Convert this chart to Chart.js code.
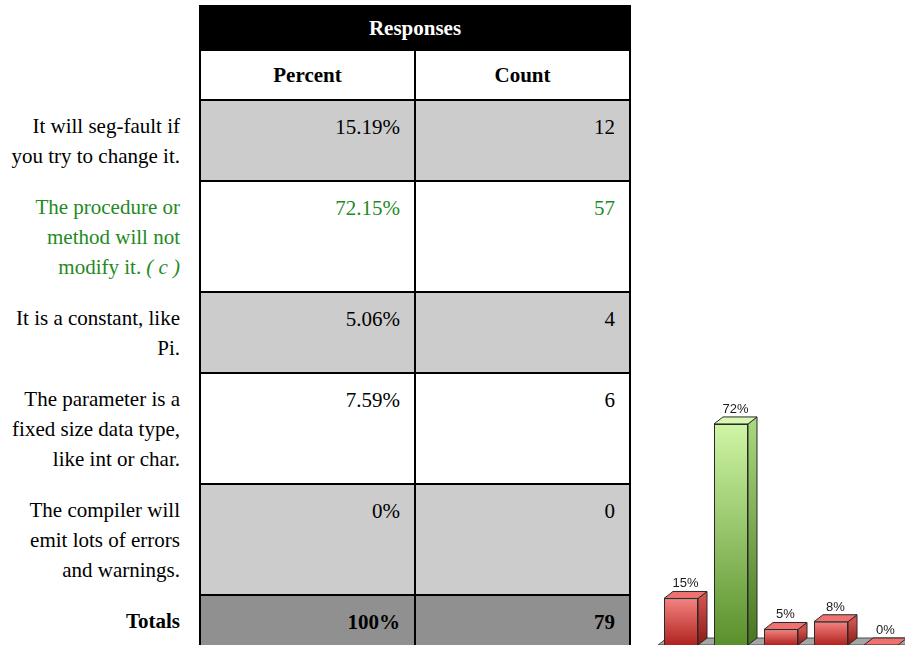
<!DOCTYPE html>
<html><head><meta charset="utf-8">
<script src="https://cdn.jsdelivr.net/npm/chart.js@4/dist/chart.umd.min.js"></script>
<style>
html,body{margin:0;padding:0;background:#fff;width:905px;height:645px;overflow:hidden;}
body{position:relative;font-family:"Liberation Serif","Times New Roman",Times,serif;font-size:21px;color:#000;}
table{position:absolute;left:0;top:5px;border-collapse:collapse;table-layout:fixed;}
td,th{padding:0;vertical-align:top;}
td.lab{border:none;text-align:right;padding:11px 19px 10px 6px;line-height:30px;}
td.lab i{margin-left:5px;}
th.resp{background:#000;color:#fff;font-weight:bold;text-align:center;vertical-align:middle;height:42px;border:2px solid #000;}
th.sub{background:#fff;font-weight:bold;text-align:center;vertical-align:middle;height:48px;border:2px solid #000;}
td.val{border:2px solid #000;text-align:right;padding:11px 14px 0 0;line-height:30px;}
tr.tot td{font-weight:bold;}
tr.tot td.val{background:#909090;}
#wrap{position:absolute;left:656px;top:395px;width:250px;height:250px;}
</style>
</head><body>
<table id="tbl">
<colgroup><col style="width:200px"><col style="width:215px"><col style="width:215px"></colgroup>
<tbody id="tb"></tbody>
</table>
<div id="wrap"><canvas id="c" width="250" height="250"></canvas></div>
<script>
// ---- data ----
const categories = [
  "It will seg-fault if you try to change it.",
  "The procedure or method will not modify it.",
  "It is a constant, like Pi.",
  "The parameter is a fixed size data type, like int or char.",
  "The compiler will emit lots of errors and warnings."
];
const percents = [15.19, 72.15, 5.06, 7.59, 0];
const counts = [12, 57, 4, 6, 0];
const correctIndex = 1;
const correctMark = "( c )";
const headerTitle = "Responses";
const columnTitles = ["Percent", "Count"];
const totalsLabel = "Totals";

// ---- table ----
function fmtPct(v){ return v === 0 ? "0%" : v.toFixed(2) + "%"; }
function wordSpans(t){ return t.split(' ').map(w => '<span>' + w + '</span>').join(' '); }
const tb = document.getElementById('tb');
let html = '<tr><td class="lab" style="padding:0"></td><th class="resp" colspan="2">' + headerTitle + '</th></tr>';
html += '<tr><td class="lab" style="padding:0"></td><th class="sub">' + columnTitles[0] + '</th><th class="sub">' + columnTitles[1] + '</th></tr>';
categories.forEach((cat, i) => {
  const bg = (i % 2 === 0) ? '#cccccc' : '#ffffff';
  const green = i === correctIndex;
  const col = green ? 'color:#1f8a1f;' : '';
  const lab = green ? wordSpans(cat) + '<i>' + correctMark + '</i>' : cat;
  html += '<tr><td class="lab" style="' + col + '">' + lab + '</td>' +
          '<td class="val" style="background:' + bg + ';' + col + '">' + fmtPct(percents[i]) + '</td>' +
          '<td class="val" style="background:' + bg + ';' + col + '">' + counts[i] + '</td></tr>';
});
const totalCount = counts.reduce((a, b) => a + b, 0);
const totalPct = Math.round(percents.reduce((a, b) => a + b, 0));
html += '<tr class="tot"><td class="lab">' + totalsLabel + '</td><td class="val">' + totalPct + '%</td><td class="val">' + totalCount + '</td></tr>';
tb.innerHTML = html;

// ---- chart ----
const DX = 9, DY = -7;
function palette(i){
  return i === correctIndex
    ? {fTop:'#cff6a6', fBot:'#5a902b', sTop:'#a7d77c', sBot:'#467620', top:'#d9f9b3'}
    : {fTop:'#f48380', fBot:'#b0231f', sTop:'#cf504c', sBot:'#8a1a16', top:'#f07270'};
}
function frontFill(context){
  const chart = context.chart;
  if (!chart.chartArea) return '#cc4444';
  const ys = chart.scales.y;
  const yTop = ys.getPixelForValue(context.raw);
  const yBase = ys.getPixelForValue(0);
  const p = palette(context.dataIndex);
  const g = chart.ctx.createLinearGradient(0, yTop, 0, Math.max(yBase, yTop + 1));
  g.addColorStop(0, p.fTop);
  g.addColorStop(1, p.fBot);
  return g;
}
const bar3d = {
  id: 'bar3d',
  beforeDatasetsDraw(chart){
    const c = chart.ctx, a = chart.chartArea;
    const base = chart.scales.y.getPixelForValue(0);
    c.save();
    c.beginPath();
    c.moveTo(a.left + 2, base);
    c.lineTo(a.right + 30, base);
    c.lineTo(a.right + 30 + DX, base + DY);
    c.lineTo(a.left + 2 + DX, base + DY);
    c.closePath();
    c.fillStyle = '#a5a5a5';
    c.fill();
    c.strokeStyle = '#4a4a4a';
    c.lineWidth = 1;
    c.stroke();
    c.restore();
  },
  afterDatasetsDraw(chart){
    const c = chart.ctx;
    const meta = chart.getDatasetMeta(0);
    meta.data.forEach((el, i) => {
      const {x, y, base, width} = el.getProps(['x', 'y', 'base', 'width'], true);
      const p = palette(i);
      const l = x - width / 2, r = x + width / 2;
      c.save();
      c.lineWidth = 1;
      c.strokeStyle = '#2a2a2a';
      c.lineJoin = 'round';
      if (base - y > 0.5) {
        const g = c.createLinearGradient(0, y, 0, base);
        g.addColorStop(0, p.sTop);
        g.addColorStop(1, p.sBot);
        c.beginPath();
        c.moveTo(r, y);
        c.lineTo(r + DX, y + DY);
        c.lineTo(r + DX, base + DY);
        c.lineTo(r, base);
        c.closePath();
        c.fillStyle = g;
        c.fill();
        c.stroke();
      }
      c.beginPath();
      c.moveTo(l, y);
      c.lineTo(r, y);
      c.lineTo(r + DX, y + DY);
      c.lineTo(l + DX, y + DY);
      c.closePath();
      c.fillStyle = p.top;
      c.fill();
      c.stroke();
      c.fillStyle = '#1a1a1a';
      c.font = '13px "Liberation Sans", Arial, sans-serif';
      c.textAlign = 'center';
      c.textBaseline = 'alphabetic';
      c.fillText(Math.round(percents[i]) + '%', x + DX / 2, y + DY - 4);
      c.restore();
    });
  }
};
new Chart(document.getElementById('c'), {
  type: 'bar',
  data: {
    labels: categories,
    datasets: [{
      data: percents,
      backgroundColor: frontFill,
      borderColor: '#2a2a2a',
      borderWidth: 1,
      borderSkipped: 'bottom',
      categoryPercentage: 1,
      barPercentage: 0.68
    }]
  },
  options: {
    responsive: false,
    animation: false,
    events: [],
    layout: {padding: 0},
    plugins: {legend: {display: false}, tooltip: {enabled: false}},
    scales: {x: {display: false}, y: {display: false, min: 0, max: 81.6}}
  },
  plugins: [bar3d]
});
</script>
</body></html>
